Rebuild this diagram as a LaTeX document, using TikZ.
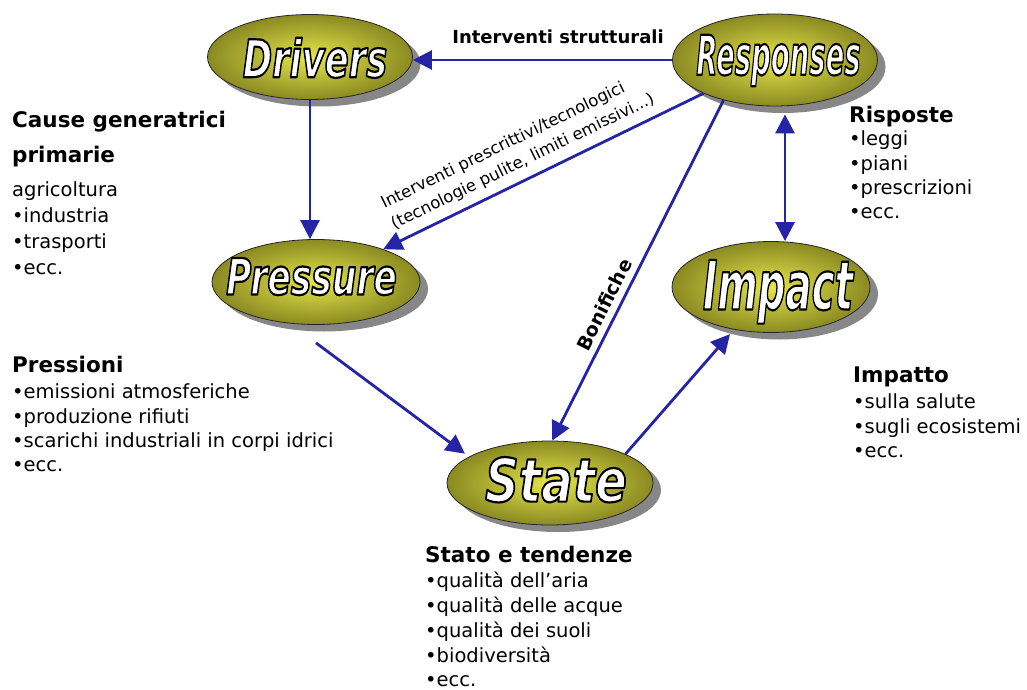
\documentclass[tikz,border=0pt]{standalone}
\usepackage{fontspec}
\setmainfont{DejaVu Sans}
\usepackage{graphicx}
\usetikzlibrary{arrows.meta,shapes.geometric,shadows}
\definecolor{arrblue}{RGB}{36,36,165}
\definecolor{olivein}{RGB}{230,230,75}
\definecolor{oliveout}{RGB}{138,138,34}
\definecolor{shadowgray}{RGB}{135,135,135}
% outlined white text (fill white, stroke black) in one pass
\newcommand\outlinetext[1]{\special{pdf:literal direct 2 Tr 2.2 w 0 0 0 RG 1 j}#1\special{pdf:literal direct 0 Tr}}
% #1 x-scale, #2 font size, #3 x shift, #4 y shift (up), #5 text
\newcommand\ellabel[5]{{\fontsize{#2}{#2}\selectfont\bfseries\itshape\color{white}\kern#3pt\makebox[0pt]{\smash{\raisebox{\dimexpr-0.36em+#4pt\relax}{\scalebox{#1}[1]{\outlinetext{#5}}}}}\kern-#3pt}}
\begin{document}
\begin{tikzpicture}[x=1pt,y=-1pt,
  bub/.style={ellipse, inner sep=0pt, draw=black!85, line width=0.8pt,
    shading=radial, inner color=olivein, outer color=oliveout,
    drop shadow={shadow xshift=8pt, shadow yshift=-7pt, fill=shadowgray, opacity=1}},
  arr/.style={draw=arrblue, line width=2.8pt, -{Triangle[length=19pt,width=19pt]}},
  hd/.style={anchor=base west, inner sep=0pt, font=\fontsize{21.5}{26}\selectfont\bfseries},
  it/.style={anchor=base west, inner sep=0pt, font=\fontsize{19.5}{24}\selectfont},
  lbl/.style={inner sep=0pt, text=black}]
\useasboundingbox[fill=white] (0,0) rectangle (1027,690);

% ellipses
\node[bub, minimum width=205pt, minimum height=85pt] (drivers) at (310,57) {\ellabel{0.68}{52}{5}{-1.5}{Drivers}};
\node[bub, minimum width=205pt, minimum height=92pt] (responses) at (775,60) {\ellabel{0.5}{55}{3.5}{5}{Responses}};
\node[bub, minimum width=208pt, minimum height=85pt] (pressure) at (316,282) {\ellabel{0.69}{50}{-4.5}{5.5}{Pressure}};
\node[bub, minimum width=198pt, minimum height=91pt] (impact) at (771,287) {\ellabel{0.57}{68}{7}{2}{Impact}};
\node[bub, minimum width=206pt, minimum height=84pt] (state) at (550,483) {\ellabel{0.78}{60}{6}{3}{State}};

% connectors
\draw[arr] (responses.west) -- (responses.west -| drivers.east)
  node[lbl, pos=0.44, above=15pt, font=\fontsize{18}{20}\selectfont\bfseries] (lstr) {Interventi strutturali};
\draw[arr] (drivers.south) -- (drivers.south |- pressure.north);
\draw[arr] (responses.205) -- (pressure.26)
  node[lbl, sloped, pos=0.54, above=8pt, align=left, font=\fontsize{16.5}{23}\selectfont] (lpre) {Interventi prescrittivi/tecnologici\\(tecnologie pulite, limiti emissivi...)};
\draw[arr] (responses.218) -- (state.87)
  node[lbl, sloped, pos=0.62, above=6pt, font=\fontsize{19}{22}\selectfont\bfseries] (lbon) {Bonifiche};
\draw[arr, {Triangle[length=19pt,width=19pt]}-{Triangle[length=19pt,width=19pt]}, shorten <=8pt]
  ([xshift=10pt]responses.south) -- ([xshift=14pt]impact.north);
\draw[arr, shorten >=5pt] ([yshift=-18pt]pressure.south) -- (state.162);
\draw[arr, shorten >=6pt] (state.21) -- (impact.229);

% Drivers text
\node[hd] (c1) at (12,128) {Cause generatrici};
\node[hd] (c2) at (12,162) {primarie};
\node[it] (c3) at (12,196) {agricoltura};
\node[it] (c4) at (12,222) {•industria};
\node[it] (c5) at (12,248) {•trasporti};
\node[it] (c6) at (12,274) {•ecc.};

% Pressure text
\node[hd] (p1) at (12,372) {Pressioni};
\node[it] (p2) at (12,398) {•emissioni atmosferiche};
\node[it] (p3) at (12,423) {•produzione rifiuti};
\node[it] (p4) at (12,447) {•scarichi industriali in corpi idrici};
\node[it] (p5) at (12,471) {•ecc.};

% Responses text
\node[hd] (r1) at (849,123) {Risposte};
\node[it] (r2) at (849,146) {•leggi};
\node[it] (r3) at (849,170) {•piani};
\node[it] (r4) at (849,194) {•prescrizioni};
\node[it] (r5) at (849,218) {•ecc.};

% Impact text
\node[hd] (i1) at (853,382) {Impatto};
\node[it] (i2) at (853,408) {•sulla salute};
\node[it] (i3) at (853,433) {•sugli ecosistemi};
\node[it] (i4) at (853,457) {•ecc.};

% State text
\node[hd] (s1) at (425,562) {Stato e tendenze};
\node[it] (s2) at (425,587) {•qualità dell'aria};
\node[it] (s3) at (425,612) {•qualità delle acque};
\node[it] (s4) at (425,637) {•qualità dei suoli};
\node[it] (s5) at (425,662) {•biodiversità};
\node[it] (s6) at (425,686) {•ecc.};
\end{tikzpicture}
\end{document}
